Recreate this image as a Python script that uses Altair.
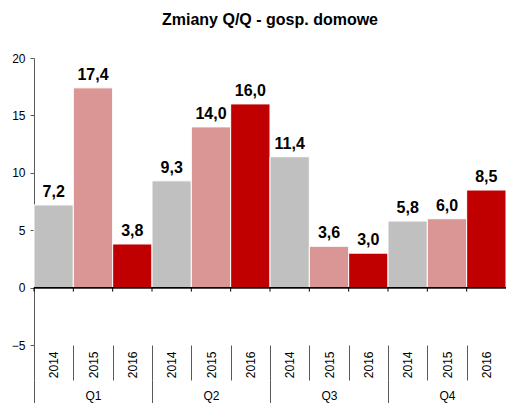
import altair as alt
import pandas as pd

quarters = ["Q1", "Q2", "Q3", "Q4"]
years = ["2014", "2015", "2016"]
values = [7.2, 17.4, 3.8, 9.3, 14.0, 16.0, 11.4, 3.6, 3.0, 5.8, 6.0, 8.5]
colors = ["#C0C0C0", "#DA9694", "#C00000"]
y_ticks = [-5, 0, 5, 10, 15, 20]

rows = []
i = 0
for q in quarters:
    for y in years:
        rows.append({"quarter": q, "year": y, "key": f"{q} {y}", "value": values[i]})
        i += 1
df = pd.DataFrame(rows)
keys = list(df["key"])
qdf = pd.DataFrame({"quarter": quarters})

FONT = "Liberation Sans"
AX = "#595959"

year_axis = alt.Axis(
    orient="bottom", title=None, domain=False, ticks=True, tickBand="extent",
    tickSize=35, tickColor=AX, labelAngle=270, labelAlign="right",
    labelBaseline="middle", labelPadding=-29, labelFontSize=12, labelFont=FONT,
    labelColor="#000000", labelExpr="split(datum.value, ' ')[1]",
)
xk = alt.X("key:N", sort=keys, scale=alt.Scale(paddingInner=0, paddingOuter=0), axis=year_axis)
yq = alt.Y("value:Q", scale=alt.Scale(domain=[-5, 20], nice=False, zero=False),
           axis=alt.Axis(values=y_ticks, title=None, grid=False, domainColor=AX,
                         tickColor=AX, tickSize=4, labelPadding=5, labelFontSize=12,
                         labelFont=FONT, labelColor="#000000"))

bars = alt.Chart(df).mark_bar(stroke="white", strokeWidth=1).encode(
    x=xk, y=yq,
    color=alt.Color("year:N", scale=alt.Scale(domain=years, range=colors), legend=None),
)
zero = alt.Chart(df).mark_rule(color="black", strokeWidth=1).encode(y=alt.datum(0))
zticks = alt.Chart(df).mark_rule(color="black", strokeWidth=1).encode(
    x=alt.X("key:N", sort=keys, bandPosition=0, axis=year_axis),
    y=alt.datum(0), y2=alt.datum(-0.35),
)
labels = alt.Chart(df).mark_text(
    dy=-8, fontSize=16, fontWeight="bold", font=FONT, color="black", baseline="alphabetic"
).transform_calculate(
    lab="replace(format(datum.value, '.1f'), '.', ',')"
).encode(x=xk, y="value:Q", text="lab:N")

key_layer = alt.layer(bars, zero, zticks, labels)

q_layer = alt.Chart(qdf).mark_point(opacity=0).encode(
    x=alt.X("quarter:N", sort=quarters, scale=alt.Scale(paddingInner=0, paddingOuter=0),
            axis=alt.Axis(orient="bottom", offset=35, title=None, domain=False,
                          tickBand="extent", tickSize=25, tickColor=AX, labelAngle=0,
                          labelBaseline="middle", labelPadding=-10, labelFontSize=12,
                          labelFont=FONT, labelColor="#000000")),
    y=alt.datum(0),
)

chart = alt.layer(key_layer, q_layer).resolve_scale(x="independent").properties(
    width=472, height=287,
    autosize=alt.AutoSizeParams(type="none"),
    padding={"left": 26, "top": 50, "right": 0, "bottom": 58},
    title=alt.TitleParams("Zmiany Q/Q - gosp. domowe", fontSize=16, fontWeight="bold",
                          font=FONT, color="black", anchor="middle", offset=24),
).configure_view(stroke=None)

chart.save("out.html", embed_options={"renderer": "svg", "actions": False})
